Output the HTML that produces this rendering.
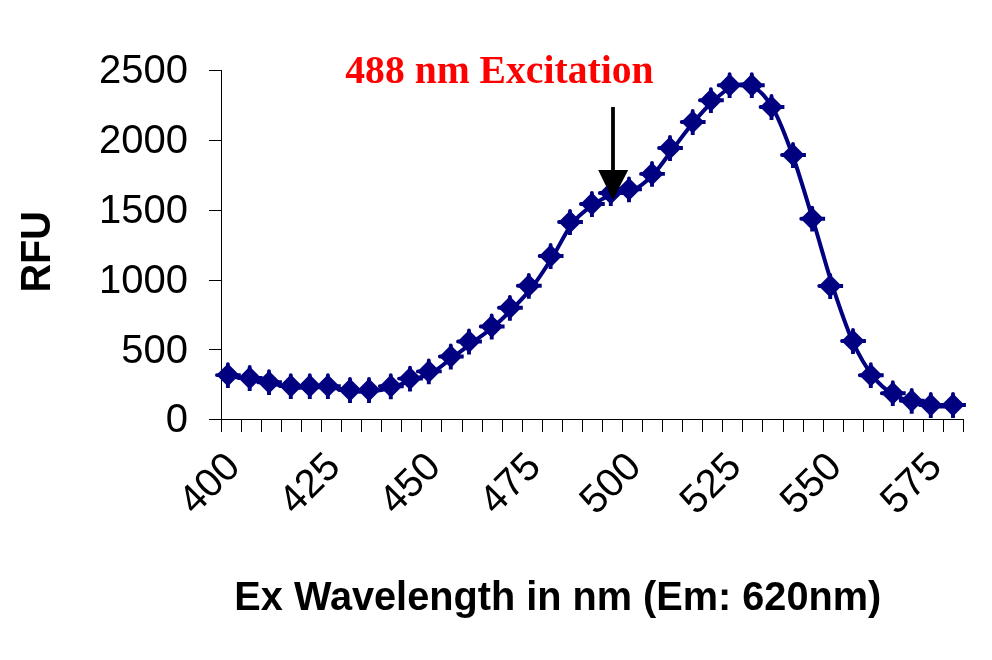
<!DOCTYPE html>
<html><head><meta charset="utf-8"><style>
html,body{margin:0;padding:0;background:#fff;}
body{width:992px;height:660px;overflow:hidden;}
svg{display:block;}
.sans{font-family:"Liberation Sans",Arial,sans-serif;}
</style></head><body>
<svg width="992" height="660" viewBox="0 0 992 660">
<rect width="992" height="660" fill="#fff"/>
<g stroke="#000" stroke-width="1" fill="none" shape-rendering="crispEdges">
<path d="M221.5,70V432 M209,419.5H964"/>
<path d="M209,419.5H222 M209,349.5H222 M209,280.5H222 M209,210.5H222 M209,140.5H222 M209,70.5H222 M221.5,420V432 M241.5,420V432 M261.5,420V432 M281.5,420V432 M301.5,420V432 M321.5,420V432 M341.5,420V432 M361.5,420V432 M381.5,420V432 M401.5,420V432 M421.5,420V432 M441.5,420V432 M462.5,420V432 M482.5,420V432 M502.5,420V432 M522.5,420V432 M542.5,420V432 M562.5,420V432 M582.5,420V432 M602.5,420V432 M622.5,420V432 M642.5,420V432 M662.5,420V432 M682.5,420V432 M702.5,420V432 M722.5,420V432 M742.5,420V432 M762.5,420V432 M783.5,420V432 M803.5,420V432 M823.5,420V432 M843.5,420V432 M863.5,420V432 M883.5,420V432 M903.5,420V432 M923.5,420V432 M943.5,420V432 M963.5,420V432"/>
</g>
<path d="M231.53,376.4 C234.87,376.88 244.89,378.12 251.57,379.3 C258.26,380.48 264.94,382.15 271.62,383.5 C278.31,384.85 284.99,386.75 291.68,387.4 C298.36,388.05 305.04,387.4 311.73,387.4 C318.41,387.4 325.09,386.75 331.77,387.4 C338.46,388.05 345.14,390.65 351.83,391.3 C358.51,391.95 365.19,391.93 371.88,391.3 C378.56,390.68 385.24,389.45 391.93,387.55 C398.61,385.65 405.29,382.38 411.98,379.9 C418.66,377.43 425.34,376.38 432.02,372.7 C438.71,369.02 445.39,362.78 452.08,357.8 C458.76,352.82 465.44,347.8 472.12,342.8 C478.81,337.8 485.49,333.42 492.18,327.8 C498.86,322.18 505.54,315.88 512.23,309.1 C518.91,302.32 525.59,295.73 532.28,287.1 C538.96,278.47 545.64,267.93 552.33,257.3 C559.01,246.67 565.69,231.97 572.38,223.3 C579.06,214.63 585.74,210.13 592.42,205.3 C599.11,200.47 605.79,196.75 612.48,194.3 C619.16,191.85 625.84,193.78 632.53,190.6 C639.21,187.42 645.89,182.08 652.58,175.2 C659.26,168.32 665.94,157.95 672.62,149.3 C679.31,140.65 685.99,131.27 692.67,123.3 C699.36,115.33 706.04,107.63 712.73,101.5 C719.41,95.37 726.09,89 732.78,86.5 C739.46,84 746.14,82.87 752.83,86.5 C759.51,90.13 766.19,96.67 772.88,108.3 C779.56,119.93 786.24,137.68 792.93,156.3 C799.61,174.92 806.29,198.17 812.98,220 C819.66,241.83 826.34,266.92 833.02,287.3 C839.71,307.68 846.39,327.43 853.08,342.3 C859.76,357.17 866.44,367.8 873.12,376.5 C879.81,385.2 886.49,390.23 893.18,394.5 C899.86,398.77 906.54,400.13 913.23,402.1 C919.91,404.07 926.59,405.6 933.27,406.3 C939.96,407 949.98,406.3 953.33,406.3" fill="none" stroke="#000080" stroke-width="4" stroke-linejoin="round"/>
<g fill="#000080"><path d="M227.9,363.6L239.4,375.1L227.9,386.6L216.4,375.1Z"/><path d="M249.7,366.5L261.2,378L249.7,389.5L238.2,378Z"/><path d="M269,370.7L280.5,382.2L269,393.7L257.5,382.2Z"/><path d="M290.8,374.6L302.3,386.1L290.8,397.6L279.3,386.1Z"/><path d="M309.8,374.6L321.3,386.1L309.8,397.6L298.3,386.1Z"/><path d="M327.9,374.6L339.4,386.1L327.9,397.6L316.4,386.1Z"/><path d="M350,378.5L361.5,390L350,401.5L338.5,390Z"/><path d="M369,378.5L380.5,390L369,401.5L357.5,390Z"/><path d="M390.8,374.75L402.3,386.25L390.8,397.75L379.3,386.25Z"/><path d="M410,367.1L421.5,378.6L410,390.1L398.5,378.6Z"/><path d="M428.8,359.9L440.3,371.4L428.8,382.9L417.3,371.4Z"/><path d="M450.8,345L462.3,356.5L450.8,368L439.3,356.5Z"/><path d="M469,330L480.5,341.5L469,353L457.5,341.5Z"/><path d="M491.7,315L503.2,326.5L491.7,338L480.2,326.5Z"/><path d="M509.9,296.3L521.4,307.8L509.9,319.3L498.4,307.8Z"/><path d="M528.8,274.3L540.3,285.8L528.8,297.3L517.3,285.8Z"/><path d="M550.6,244.5L562.1,256L550.6,267.5L539.1,256Z"/><path d="M570,210.5L581.5,222L570,233.5L558.5,222Z"/><path d="M591.9,192.5L603.4,204L591.9,215.5L580.4,204Z"/><path d="M610.8,181.5L622.3,193L610.8,204.5L599.3,193Z"/><path d="M629,177.8L640.5,189.3L629,200.8L617.5,189.3Z"/><path d="M652,162.4L663.5,173.9L652,185.4L640.5,173.9Z"/><path d="M670,136.5L681.5,148L670,159.5L658.5,148Z"/><path d="M692.7,110.5L704.2,122L692.7,133.5L681.2,122Z"/><path d="M710.9,88.7L722.4,100.2L710.9,111.7L699.4,100.2Z"/><path d="M729.6,73.7L741.1,85.2L729.6,96.7L718.1,85.2Z"/><path d="M751.8,73.7L763.3,85.2L751.8,96.7L740.3,85.2Z"/><path d="M771.5,95.5L783,107L771.5,118.5L760,107Z"/><path d="M793,143.5L804.5,155L793,166.5L781.5,155Z"/><path d="M812.2,207.2L823.7,218.7L812.2,230.2L800.7,218.7Z"/><path d="M830.2,274.5L841.7,286L830.2,297.5L818.7,286Z"/><path d="M853,329.5L864.5,341L853,352.5L841.5,341Z"/><path d="M870.8,363.7L882.3,375.2L870.8,386.7L859.3,375.2Z"/><path d="M892.8,381.7L904.3,393.2L892.8,404.7L881.3,393.2Z"/><path d="M911.7,389.3L923.2,400.8L911.7,412.3L900.2,400.8Z"/><path d="M930.8,393.5L942.3,405L930.8,416.5L919.3,405Z"/><path d="M953,393.5L964.5,405L953,416.5L941.5,405Z"/></g>
<path d="M227.9,375.1V364.15M227.9,375.1H216.95 M249.7,378V367.05M249.7,378H238.75 M269,382.2V371.25M269,382.2H258.05 M290.8,386.1V375.15M290.8,386.1H279.85 M309.8,386.1V375.15M309.8,386.1H298.85 M327.9,386.1V375.15M327.9,386.1H316.95 M350,390V379.05M350,390H339.05 M369,390V379.05M369,390H358.05 M390.8,386.25V375.3M390.8,386.25H379.85 M410,378.6V367.65M410,378.6H399.05 M428.8,371.4V360.45M428.8,371.4H417.85 M450.8,356.5V345.55M450.8,356.5H439.85 M469,341.5V330.55M469,341.5H458.05 M491.7,326.5V315.55M491.7,326.5H480.75 M509.9,307.8V296.85M509.9,307.8H498.95 M528.8,285.8V274.85M528.8,285.8H517.85 M550.6,256V245.05M550.6,256H539.65 M570,222V211.05M570,222H559.05 M591.9,204V193.05M591.9,204H580.95 M610.8,193V182.05M610.8,193H599.85 M629,189.3V178.35M629,189.3H618.05 M652,173.9V162.95M652,173.9H641.05 M670,148V137.05M670,148H659.05 M692.7,122V111.05M692.7,122H681.75 M710.9,100.2V89.25M710.9,100.2H699.95 M729.6,85.2V74.25M729.6,85.2H718.65 M751.8,85.2V74.25M751.8,85.2H740.85 M771.5,107V96.05M771.5,107H760.55 M793,155V144.05M793,155H782.05 M812.2,218.7V207.75M812.2,218.7H801.25 M830.2,286V275.05M830.2,286H819.25 M853,341V330.05M853,341H842.05 M870.8,375.2V364.25M870.8,375.2H859.85 M892.8,393.2V382.25M892.8,393.2H881.85 M911.7,400.8V389.85M911.7,400.8H900.75 M930.8,405V394.05M930.8,405H919.85 M953,405V394.05M953,405H942.05" stroke="#000080" stroke-width="3.9" stroke-linecap="round" fill="none"/>
<path d="M227.9,375.1V388M227.9,375.1H240.8 M249.7,378V390.9M249.7,378H262.6 M269,382.2V395.1M269,382.2H281.9 M290.8,386.1V399M290.8,386.1H303.7 M309.8,386.1V399M309.8,386.1H322.7 M327.9,386.1V399M327.9,386.1H340.8 M350,390V402.9M350,390H362.9 M369,390V402.9M369,390H381.9 M390.8,386.25V399.15M390.8,386.25H403.7 M410,378.6V391.5M410,378.6H422.9 M428.8,371.4V384.3M428.8,371.4H441.7 M450.8,356.5V369.4M450.8,356.5H463.7 M469,341.5V354.4M469,341.5H481.9 M491.7,326.5V339.4M491.7,326.5H504.6 M509.9,307.8V320.7M509.9,307.8H522.8 M528.8,285.8V298.7M528.8,285.8H541.7 M550.6,256V268.9M550.6,256H563.5 M570,222V234.9M570,222H582.9 M591.9,204V216.9M591.9,204H604.8 M610.8,193V205.9M610.8,193H623.7 M629,189.3V202.2M629,189.3H641.9 M652,173.9V186.8M652,173.9H664.9 M670,148V160.9M670,148H682.9 M692.7,122V134.9M692.7,122H705.6 M710.9,100.2V113.1M710.9,100.2H723.8 M729.6,85.2V98.1M729.6,85.2H742.5 M751.8,85.2V98.1M751.8,85.2H764.7 M771.5,107V119.9M771.5,107H784.4 M793,155V167.9M793,155H805.9 M812.2,218.7V231.6M812.2,218.7H825.1 M830.2,286V298.9M830.2,286H843.1 M853,341V353.9M853,341H865.9 M870.8,375.2V388.1M870.8,375.2H883.7 M892.8,393.2V406.1M892.8,393.2H905.7 M911.7,400.8V413.7M911.7,400.8H924.6 M930.8,405V417.9M930.8,405H943.7 M953,405V417.9M953,405H965.9" stroke="#000080" stroke-width="3.9" stroke-linecap="butt" fill="none"/>
<g class="sans" font-size="40" fill="#000"><text id="yl0" transform="translate(188,432.3) scale(1,1.03)" text-anchor="end">0</text><text id="yl1" transform="translate(188,362.5) scale(1,1.03)" text-anchor="end">500</text><text id="yl2" transform="translate(188,292.7) scale(1,1.03)" text-anchor="end">1000</text><text id="yl3" transform="translate(188,222.9) scale(1,1.03)" text-anchor="end">1500</text><text id="yl4" transform="translate(188,153.1) scale(1,1.03)" text-anchor="end">2000</text><text id="yl5" transform="translate(188,83.3) scale(1,1.03)" text-anchor="end">2500</text></g>
<g class="sans" font-size="40" fill="#000"><text id="xl0" transform="translate(242.03,468.7) rotate(-45)" text-anchor="end">400</text><text id="xl1" transform="translate(342.27,468.7) rotate(-45)" text-anchor="end">425</text><text id="xl2" transform="translate(442.52,468.7) rotate(-45)" text-anchor="end">450</text><text id="xl3" transform="translate(542.78,468.7) rotate(-45)" text-anchor="end">475</text><text id="xl4" transform="translate(643.03,468.7) rotate(-45)" text-anchor="end">500</text><text id="xl5" transform="translate(743.28,468.7) rotate(-45)" text-anchor="end">525</text><text id="xl6" transform="translate(843.52,468.7) rotate(-45)" text-anchor="end">550</text><text id="xl7" transform="translate(943.77,468.7) rotate(-45)" text-anchor="end">575</text></g>
<text id="rfu" class="sans" font-size="40" font-weight="bold" transform="translate(49.9,251.9) rotate(-90) scale(0.99,1.075)" text-anchor="middle">RFU</text>
<text id="xt" class="sans" font-size="40" font-weight="bold" transform="translate(557.8,610) scale(0.9926,1.028)" text-anchor="middle">Ex Wavelength in nm (Em: 620nm)</text>
<text font-family="'Liberation Serif','Times New Roman',serif" font-size="40" font-weight="bold" fill="#f00" id="red" transform="translate(499.4,82.8) scale(0.991,1.02)" text-anchor="middle">488 nm Excitation</text>
<path d="M613,107V172" stroke="#000" stroke-width="3.8" fill="none"/>
<path d="M598.2,170H628.2L612.8,200Z" fill="#000"/>
</svg>
</body></html>
